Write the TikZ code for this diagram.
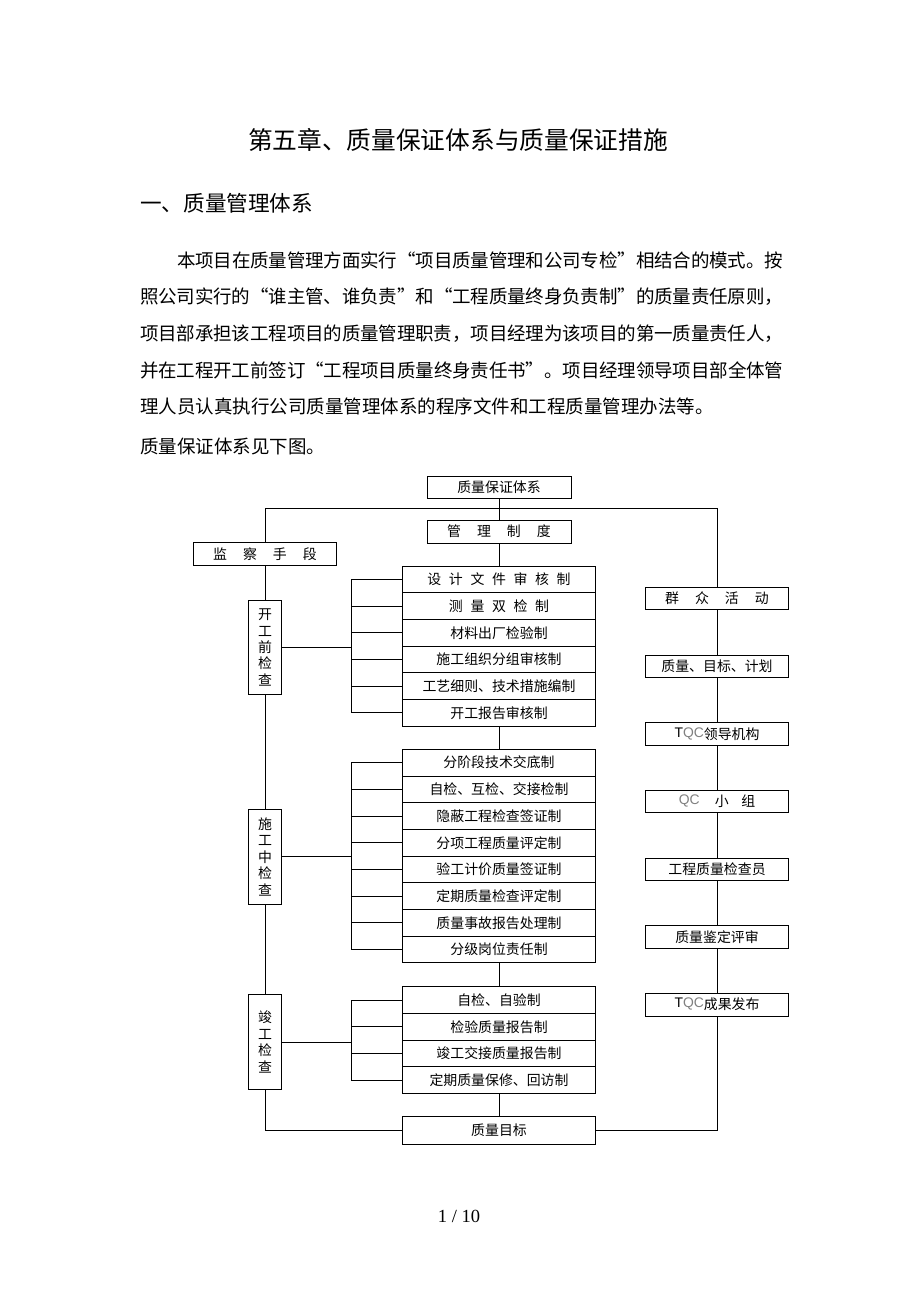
\documentclass[tikz,border=0pt]{standalone}
\usepackage{fontspec}
\newfontfamily\cjk{Noto Sans CJK SC}
\newfontfamily\latinsf{Liberation Sans}
\newfontfamily\numserif{Liberation Serif}
\usetikzlibrary{positioning}
\XeTeXlinebreaklocale "zh"
\XeTeXlinebreakskip=0pt plus 1pt minus 0.5pt
\newcommand\fullline{\parfillskip=0pt\noindent}
\newcommand\gapA{\hspace{.55em}}
\newcommand\gapB{\hspace{1.15em}}
\newcommand\tqcmark[1]{\raisebox{2pt}{\latinsf T\textcolor{gray}{#1}}}
\newcommand\qcmark{\raisebox{2pt}{\latinsf\textcolor{gray}{QC}}}

\tikzset{
  chartbox/.style={draw, line width=0.9pt, inner sep=0pt, font=\cjk\fontsize{13.9}{16}\selectfont},
  rowbox/.style={chartbox, minimum width=192.5pt, minimum height=26.7pt},
  sidebox/.style={chartbox, minimum width=143.5pt, minimum height=22.5pt},
  stagebox/.style={chartbox, minimum width=33pt, minimum height=94pt, align=center,
    font=\cjk\fontsize{13.9}{16.4}\selectfont},
  link/.style={line width=0.9pt},
  bodytext/.style={anchor=west, inner sep=0pt, font=\cjk\fontsize{18.5}{22}\selectfont},
  bodyline/.style={bodytext, align=justify}
}

\begin{document}
\begin{tikzpicture}[x=1pt,y=-1pt]
\useasboundingbox[fill=white] (0,0) rectangle (920,1302);

% Headings
\node[font=\cjk\fontsize{24.7}{28}\selectfont] (title) at (458,140) {第五章、质量保证体系与质量保证措施};
\node[bodytext, font=\cjk\fontsize{21.6}{25}\selectfont] (section) at (140,203) {一、质量管理体系};

% Text
\node[bodyline, text width=606pt] (para1) at (177,260) {\fullline 本项目在质量管理方面实行“项目质量管理和公司专检”相结合的模式。按};
\node[bodyline, text width=643pt] (para2) at (140,296.7) {\fullline 照公司实行的“谁主管、谁负责”和“工程质量终身负责制”的质量责任原则，};
\node[bodyline, text width=643pt] (para3) at (140,333.3) {\fullline 项目部承担该工程项目的质量管理职责，项目经理为该项目的第一质量责任人，};
\node[bodyline, text width=643pt] (para4) at (140,370) {\fullline 并在工程开工前签订“工程项目质量终身责任书”。项目经理领导项目部全体管};
\node[bodytext] (para5) at (140,406.7) {理人员认真执行公司质量管理体系的程序文件和工程质量管理办法等。};
\node[bodytext] (para6) at (140,446.7) {质量保证体系见下图。};

% Top of chart
\node[sidebox, minimum width=144pt, minimum height=22pt] (sys) at (499,487) {质量保证体系};
\node[sidebox, minimum width=144pt, minimum height=23pt] (rule) at (499,531.5) {管\gapB 理\gapB 制\gapB 度};
\node[sidebox] (watch) at (265,554) {监\gapB 察\gapB 手\gapB 段};
\coordinate (hl) at (499,508.5);
\coordinate (bra) at (351,0);

% Stages
\node[stagebox] (st1) at (265,647.5) {开\\工\\前\\检\\查};
\node[stagebox, minimum height=95pt] (st2) at (265,856.8) {施\\工\\中\\检\\查};
\node[stagebox, minimum height=95pt] (st3) at (265,1042) {竣\\工\\检\\查};

% Rules before start
\foreach \txt [count=\i] in {设\gapA 计\gapA 文\gapA 件\gapA 审\gapA 核\gapA 制,
    测\gapA 量\gapA 双\gapA 检\gapA 制, 材料出厂检验制, 施工组织分组审核制,
    工艺细则、技术措施编制, 开工报告审核制}
  \node[rowbox] (pre\i) at (499,552.65+26.7*\i) {\txt};

% Rules during work
\foreach \txt [count=\i] in {分阶段技术交底制, 自检、互检、交接检制, 隐蔽工程检查签证制,
    分项工程质量评定制, 验工计价质量签证制, 定期质量检查评定制, 质量事故报告处理制, 分级岗位责任制}
  \node[rowbox] (mid\i) at (499,735.95+26.7*\i) {\txt};

% Rules at completion
\foreach \txt [count=\i] in {自检、自验制, 检验质量报告制, 竣工交接质量报告制, 定期质量保修、回访制}
  \node[rowbox] (post\i) at (499,973.35+26.7*\i) {\txt};

\node[rowbox, minimum height=27.5pt] (goal) at (499,1130.3) {质量目标};

% Right column
\foreach \txt [count=\i] in {群\gapB 众\gapB 活\gapB 动, 质量、目标、计划, \tqcmark{QC}领导机构,
    \qcmark\hspace{1.1em}小\hspace{.9em}组, 工程质量检查员, 质量鉴定评审, \tqcmark{QC}成果发布}
  \node[sidebox] (act\i) at (717,531+67.67*\i) {\txt};

% Links
\draw[link] (sys.south) -- (rule.north);
\draw[link] (watch.north) |- (hl) -| (act1.north);
\draw[link] (rule.south) -- (pre1.north);
\draw[link] (pre6.south) -- (mid1.north);
\draw[link] (mid8.south) -- (post1.north);
\draw[link] (post4.south) -- (goal.north);
\draw[link] (watch.south) -- (st1.north);
\draw[link] (st1.south) -- (st2.north);
\draw[link] (st2.south) -- (st3.north);
\draw[link] (st3.south) |- (goal.west);
\draw[link] (act7.south) |- (goal.east);
\foreach \i in {1,...,6} {
  \pgfmathtruncatemacro\j{\i+1}
  \draw[link] (act\i.south) -- (act\j.north);
}

% Brackets
\foreach \i in {1,...,6} \draw[link] (pre\i.west) -- (pre\i.west -| bra);
\foreach \i in {1,...,8} \draw[link] (mid\i.west) -- (mid\i.west -| bra);
\foreach \i in {1,...,4} \draw[link] (post\i.west) -- (post\i.west -| bra);
\draw[link] (pre1.west -| bra) -- (pre6.west -| bra);
\draw[link] (mid1.west -| bra) -- (mid8.west -| bra);
\draw[link] (post1.west -| bra) -- (post4.west -| bra);
\draw[link] (st1.east) -- (st1.east -| bra);
\draw[link] (st2.east) -- (st2.east -| bra);
\draw[link] (st3.east) -- (st3.east -| bra);

% Page number
\node[font=\numserif\fontsize{18.5}{22}\selectfont] (pageno) at (459,1216) {1 / 10};
\end{tikzpicture}
\end{document}
